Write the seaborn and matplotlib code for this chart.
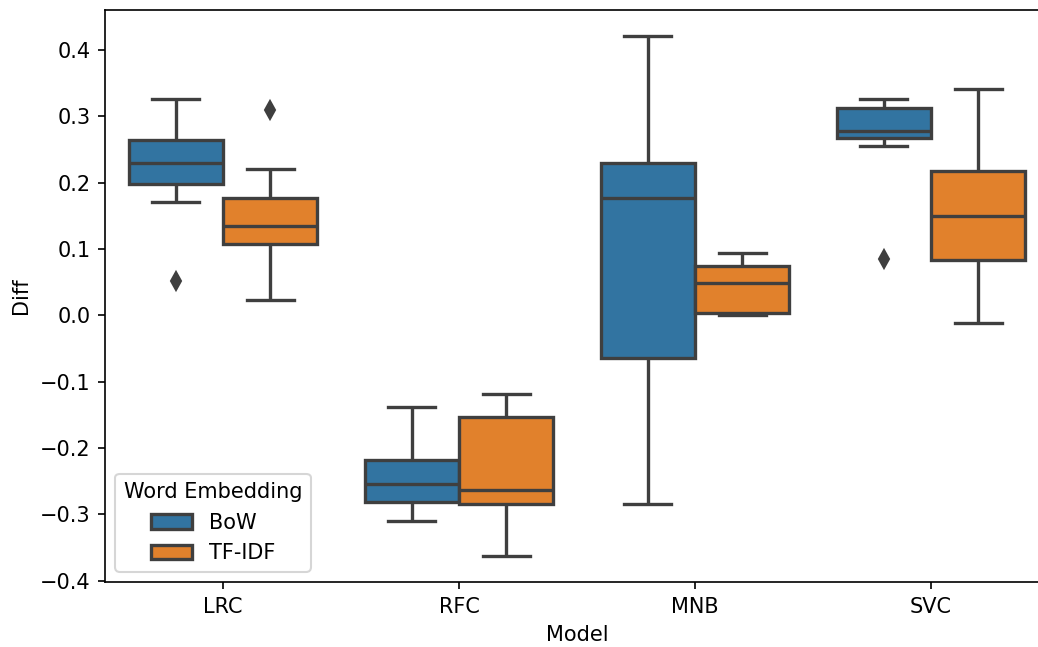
import numpy as np
import pandas as pd
import matplotlib
matplotlib.use("Agg")
import matplotlib.pyplot as plt
import seaborn as sns

# DATA (9 folds per model / embedding)
models = ["LRC", "RFC", "MNB", "SVC"]
embeddings = ["BoW", "TF-IDF"]

lrc_bow = [0.051, 0.171, 0.198, 0.212, 0.230, 0.248, 0.264, 0.290, 0.326]
lrc_tfidf = [0.023, 0.090, 0.107, 0.120, 0.134, 0.150, 0.177, 0.221, 0.310]
rfc_bow = [-0.310, -0.290, -0.282, -0.270, -0.254, -0.230, -0.219, -0.180, -0.139]
rfc_tfidf = [-0.363, -0.300, -0.284, -0.275, -0.264, -0.200, -0.154, -0.130, -0.118]
mnb_bow = [-0.284, -0.150, -0.065, 0.050, 0.177, 0.200, 0.230, 0.330, 0.421]
mnb_tfidf = [0.000, 0.001, 0.003, 0.030, 0.048, 0.060, 0.074, 0.085, 0.094]
svc_bow = [0.085, 0.255, 0.267, 0.272, 0.278, 0.300, 0.313, 0.320, 0.326]
svc_tfidf = [-0.011, 0.050, 0.083, 0.120, 0.150, 0.190, 0.218, 0.280, 0.341]

groups = {
    ("LRC", "BoW"): lrc_bow, ("LRC", "TF-IDF"): lrc_tfidf,
    ("RFC", "BoW"): rfc_bow, ("RFC", "TF-IDF"): rfc_tfidf,
    ("MNB", "BoW"): mnb_bow, ("MNB", "TF-IDF"): mnb_tfidf,
    ("SVC", "BoW"): svc_bow, ("SVC", "TF-IDF"): svc_tfidf,
}

rows = []
for (m, e), vals in groups.items():
    for v in vals:
        rows.append({"Model": m, "Word Embedding": e, "Diff": v})
df = pd.DataFrame(rows)

# PLOT
dpi = 150
fig = plt.figure(figsize=(1038 / dpi, 647 / dpi), dpi=dpi)
# the reference is cropped on the right, so the axes run a bit past the edge
ax = fig.add_axes([105 / 1038, 1 - 582 / 647, 944 / 1038, 572 / 647])

sns.boxplot(data=df, x="Model", y="Diff", hue="Word Embedding",
            order=models, hue_order=embeddings,
            palette=["#1f77b4", "#ff7f0e"], saturation=0.75,
            linecolor="#3f3f3f", linewidth=1.6, gap=0.0, width=0.8,
            flierprops={"marker": "d", "markerfacecolor": "#3f3f3f",
                        "markeredgecolor": "#3f3f3f", "markersize": 6},
            ax=ax)

ax.legend(title="Word Embedding", loc="lower left")
fig.savefig("out.png", dpi=dpi)
